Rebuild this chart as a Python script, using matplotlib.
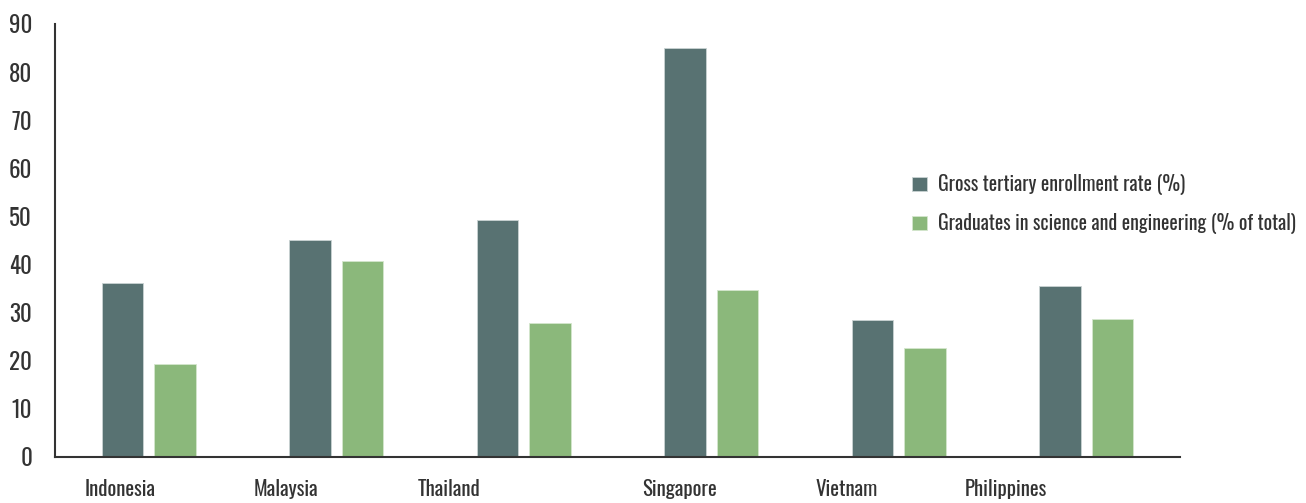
import matplotlib
matplotlib.use("Agg")
import matplotlib.pyplot as plt
import numpy as np

# data
countries = ["Indonesia", "Malaysia", "Thailand", "Singapore", "Vietnam", "Philippines"]
enrollment = [36.2, 45.1, 49.3, 85.0, 28.5, 35.5]
graduates = [19.3, 40.7, 27.9, 34.7, 22.7, 28.7]
series_names = ["Gross tertiary enrollment rate (%)",
                "Graduates in science and engineering (% of total)"]
yticks = [0, 10, 20, 30, 40, 50, 60, 70, 80, 90]

# the category labels sit a bit left of their groups in the original
label_shift = [-0.15, -0.27, -0.40, -0.17, -0.28, -0.43]

plt.rcParams["font.family"] = ["Oswald", "DejaVu Sans"]

dark = "#587272"
green = "#8bb87b"
text_col = "#333333"


def main():
    fig = plt.figure(figsize=(13.06, 5.03), dpi=100)
    ax = fig.add_axes([0.0421, 0.0915, 0.8614, 0.8608])

    x = np.arange(len(countries))
    w = 0.22
    ax.bar(x - 0.14, enrollment, w, color=dark, edgecolor="#c9d3d3", linewidth=0.6,
           label=series_names[0])
    ax.bar(x + 0.14, graduates, w, color=green, edgecolor="#d4e6cd", linewidth=0.6,
           label=series_names[1])

    ax.set_xlim(-0.5, len(countries) - 0.5)
    ax.set_ylim(0, 90)
    ax.set_yticks(yticks)
    ax.tick_params(axis="y", length=0, pad=16.5, labelsize=16.5, labelcolor=text_col)
    ax.set_xticks(x + np.array(label_shift))
    ax.set_xticklabels(countries)
    ax.tick_params(axis="x", length=0, pad=16, labelsize=15, labelcolor=text_col)

    for s in ["top", "right"]:
        ax.spines[s].set_visible(False)
    for s in ["left", "bottom"]:
        ax.spines[s].set_color("#333333")
        ax.spines[s].set_linewidth(1.5)

    fig.legend(loc="center left", bbox_to_anchor=(0.6983, 0.5944), frameon=False,
               fontsize=14.3, handlelength=0.75, handleheight=0.75, handletextpad=0.55,
               labelspacing=0.9, borderpad=0, borderaxespad=0, labelcolor=text_col)

    fig.savefig("out.png", dpi=100)


if __name__ == "__main__":
    main()
